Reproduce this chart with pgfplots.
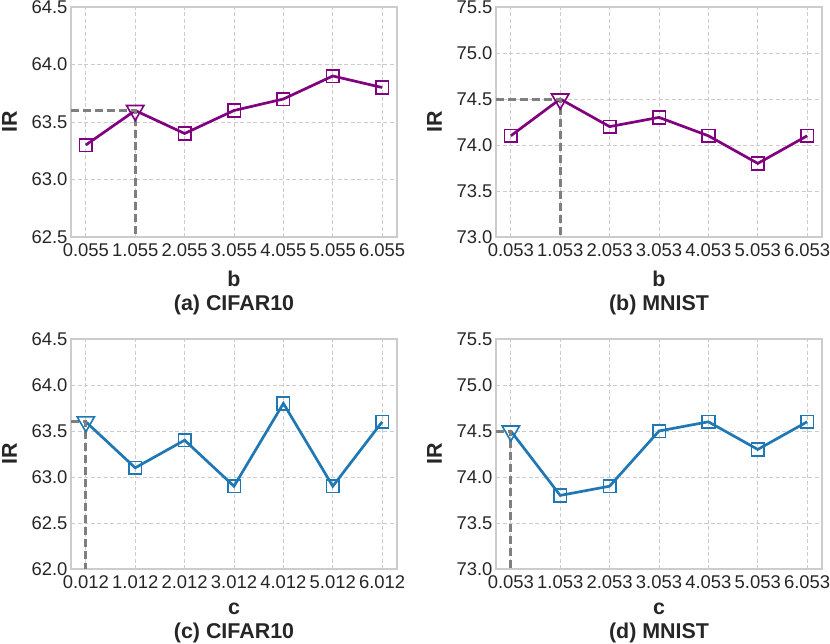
\documentclass[border=0pt]{standalone}
\usepackage{fontspec}
\setmainfont{Liberation Sans}
\usepackage{pgfplots}
\pgfplotsset{compat=1.18}

\definecolor{gridc}{HTML}{CCCCCC}
\definecolor{mypurple}{HTML}{800080}
\definecolor{myblue}{HTML}{1F77B4}
\definecolor{hl}{HTML}{7F7F7F}
\definecolor{txt}{HTML}{262626}

\pgfplotsset{
 panel/.style={
  scale only axis, width=326bp, height=230bp,
  xmin=-0.3, xmax=6.3,
  xtick={0,1,2,3,4,5,6},
  axis line style={gridc, line width=1.3bp},
  major tick length=0pt,
  grid=major,
  major grid style={gridc, line width=0.9bp, dash pattern=on 4bp off 2.5bp},
  tick label style={font=\fontsize{18.5}{20}\selectfont, text=txt},
  xticklabel shift=3bp,
  /pgf/number format/assume math mode=true,
  yticklabel style={/pgf/number format/fixed, /pgf/number format/fixed zerofill, /pgf/number format/precision=1},
  xlabel style={align=center, text=txt, font=\bfseries\fontsize{21.5}{24}\selectfont},
  xlabel shift=8bp,
  ylabel style={text=txt, font=\bfseries\fontsize{21.5}{24}\selectfont},
  ylabel shift=8bp,
  ylabel={IR},
  clip=false,
 },
 ln/.style={line width=2.7bp},
 hlline/.style={hl, line width=3bp, dash pattern=on 8bp off 4bp, forget plot},
 sq/.style={only marks, mark=square, mark size=6.3bp, mark options={line width=1.6bp, fill=none}},
 tri/.style={only marks, mark=triangle, mark size=10bp, mark options={rotate=180, line width=1.6bp, fill=none}},
}

\begin{document}
\begin{tikzpicture}
\useasboundingbox (0,0) rectangle (830bp,-644bp);

% (a)
\begin{axis}[panel, at={(71bp,-7bp)}, anchor=north west,
  ymin=62.5, ymax=64.5, ytick={62.5,63.0,63.5,64.0,64.5},
  xticklabels={0.055,1.055,2.055,3.055,4.055,5.055,6.055},
  xlabel={b\\(a) CIFAR10}]
\addplot[mypurple, ln] coordinates {(0,63.3) (1,63.6) (2,63.4) (3,63.6) (4,63.7) (5,63.9) (6,63.8)};
\addplot[mypurple, sq] coordinates {(0,63.3) (2,63.4) (3,63.6) (4,63.7) (5,63.9) (6,63.8)};
\addplot[mypurple, tri] coordinates {(1,63.6)};
\addplot[hlline] coordinates {(-0.3,63.6) (1,63.6) (1,62.5)};
\end{axis}

% (b)
\begin{axis}[panel, at={(496bp,-7bp)}, anchor=north west,
  ymin=73.0, ymax=75.5, ytick={73.0,73.5,74.0,74.5,75.0,75.5},
  xticklabels={0.053,1.053,2.053,3.053,4.053,5.053,6.053},
  xlabel={b\\(b) MNIST}]
\addplot[mypurple, ln] coordinates {(0,74.1) (1,74.5) (2,74.2) (3,74.3) (4,74.1) (5,73.8) (6,74.1)};
\addplot[mypurple, sq] coordinates {(0,74.1) (2,74.2) (3,74.3) (4,74.1) (5,73.8) (6,74.1)};
\addplot[mypurple, tri] coordinates {(1,74.5)};
\addplot[hlline] coordinates {(-0.3,74.5) (1,74.5) (1,73.0)};
\end{axis}

% (c)
\begin{axis}[panel, at={(71bp,-339bp)}, anchor=north west,
  ymin=62.0, ymax=64.5, ytick={62.0,62.5,63.0,63.5,64.0,64.5},
  xticklabels={0.012,1.012,2.012,3.012,4.012,5.012,6.012},
  xlabel={c\\(c) CIFAR10}]
\addplot[myblue, ln] coordinates {(0,63.6) (1,63.1) (2,63.4) (3,62.9) (4,63.8) (5,62.9) (6,63.6)};
\addplot[myblue, sq] coordinates {(1,63.1) (2,63.4) (3,62.9) (4,63.8) (5,62.9) (6,63.6)};
\addplot[myblue, tri] coordinates {(0,63.6)};
\addplot[hlline] coordinates {(-0.3,63.6) (0,63.6) (0,62.0)};
\end{axis}

% (d)
\begin{axis}[panel, at={(496bp,-339bp)}, anchor=north west,
  ymin=73.0, ymax=75.5, ytick={73.0,73.5,74.0,74.5,75.0,75.5},
  xticklabels={0.053,1.053,2.053,3.053,4.053,5.053,6.053},
  xlabel={c\\(d) MNIST}]
\addplot[myblue, ln] coordinates {(0,74.5) (1,73.8) (2,73.9) (3,74.5) (4,74.6) (5,74.3) (6,74.6)};
\addplot[myblue, sq] coordinates {(1,73.8) (2,73.9) (3,74.5) (4,74.6) (5,74.3) (6,74.6)};
\addplot[myblue, tri] coordinates {(0,74.5)};
\addplot[hlline] coordinates {(-0.3,74.5) (0,74.5) (0,73.0)};
\end{axis}
\end{tikzpicture}
\end{document}
